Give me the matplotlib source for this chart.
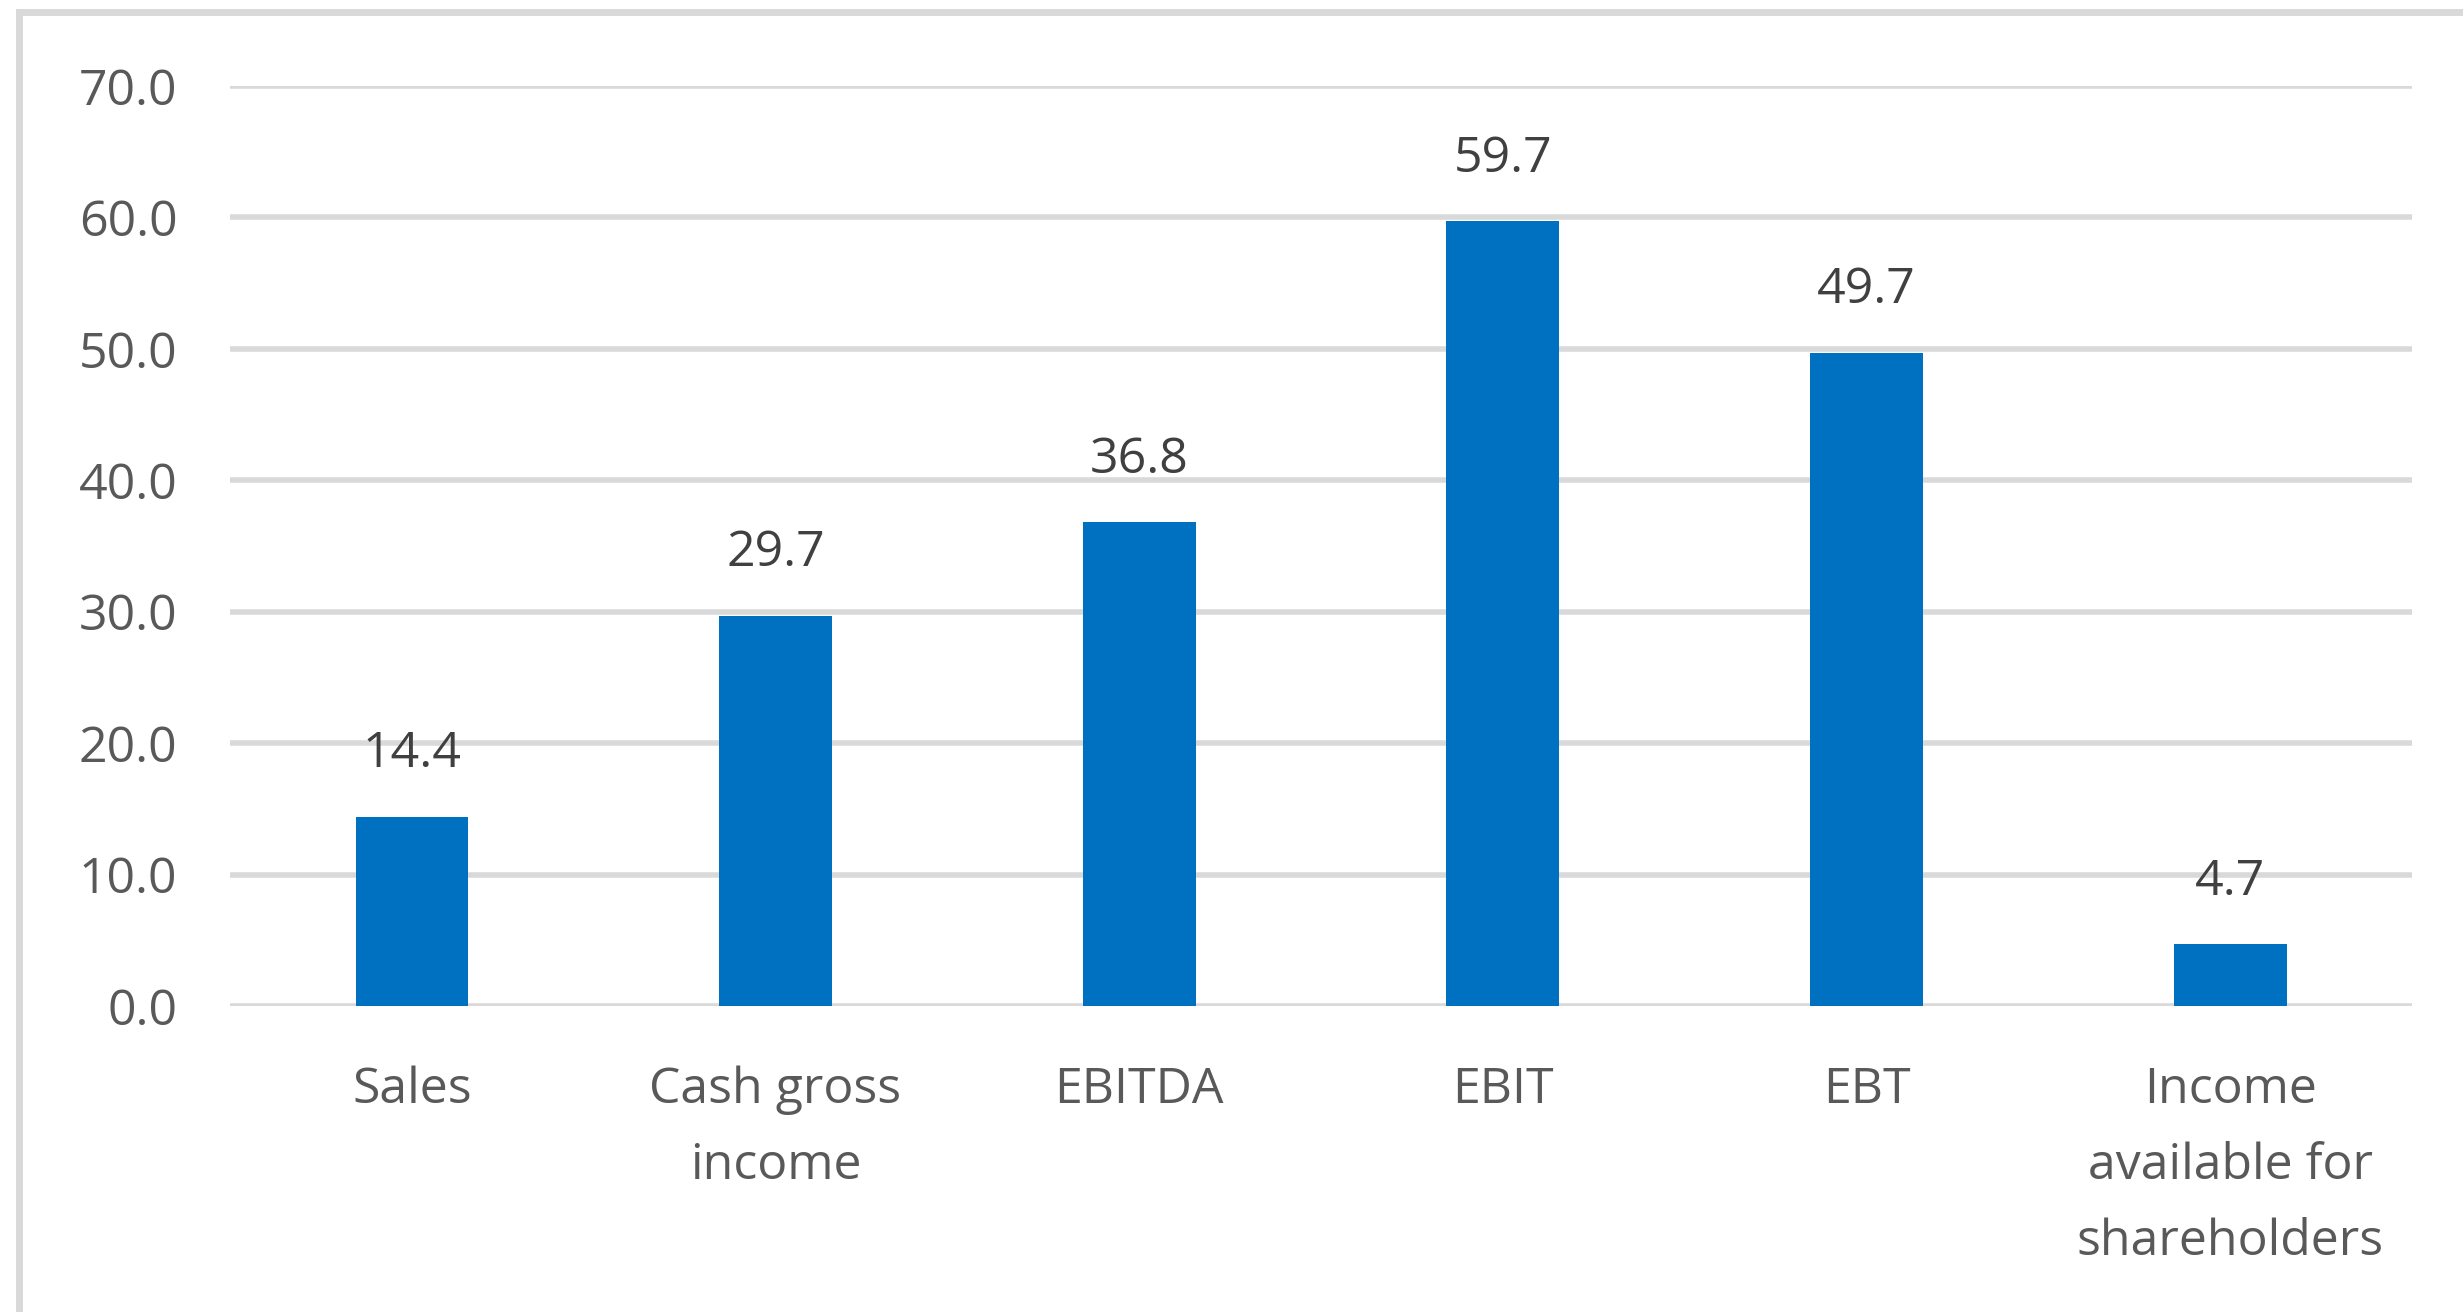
import matplotlib.pyplot as plt
from matplotlib.patches import Rectangle

categories = ['Sales', 'Cash gross\nincome', 'EBITDA', 'EBIT', 'EBT',
              'Income\navailable for\nshareholders']
values = [14.4, 29.7, 36.8, 59.7, 49.7, 4.7]
yticks = [0, 10, 20, 30, 40, 50, 60, 70]

plt.rcParams['font.family'] = ['Open Sans', 'DejaVu Sans']

fig = plt.figure(figsize=(24.63, 13.12), dpi=100)
ax = fig.add_axes([0.0934, 0.2332, 0.8859, 0.7013])

# outer chart frame (only top and left edges fall inside the canvas)
fig.patches.append(Rectangle((19 / 2463, -0.1), 1.2, 1.1 - 11.5 / 1312,
                             transform=fig.transFigure, fill=False,
                             edgecolor='#d9d9d9', linewidth=5))

x = range(len(categories))
bars = ax.bar(x, values, width=0.31, color='#0070c0', zorder=3)

for b, v in zip(bars, values):
    ax.annotate(f'{v:.1f}', (b.get_x() + b.get_width() / 2, v),
                xytext=(0, 27), textcoords='offset points',
                ha='center', va='bottom', fontsize=36, color='#404040')

ax.set_xlim(-0.5, len(categories) - 0.5)
ax.set_ylim(0, 70)
ax.set_yticks(yticks)
ax.set_yticklabels([f'{t:.1f}' for t in yticks])
ax.set_xticks(list(x))
ax.set_xticklabels(categories, linespacing=1.7)

ax.tick_params(axis='y', length=0, pad=38, labelsize=36, labelcolor='#595959')
ax.tick_params(axis='x', length=0, pad=43, labelsize=36, labelcolor='#595959')

ax.grid(axis='y', color='#d9d9d9', linewidth=4, zorder=0)
ax.set_axisbelow(True)
for s in ax.spines.values():
    s.set_visible(False)

fig.savefig('out.png', dpi=100)
